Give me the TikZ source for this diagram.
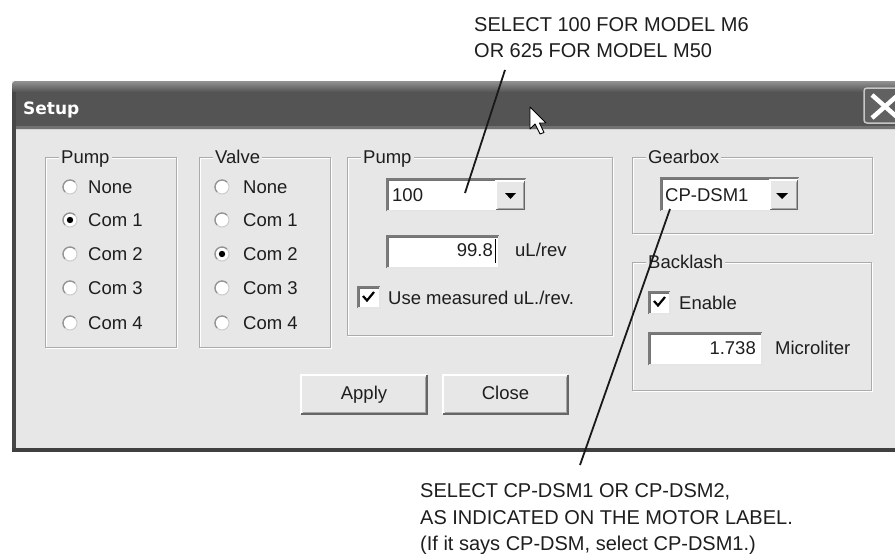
\documentclass[tikz,border=0pt]{standalone}
\usepackage{fontspec}
\setmainfont{Liberation Sans}
\newfontfamily\titlefont{DejaVu Sans}
\definecolor{dlgbg}{HTML}{E7E7E7}
\definecolor{grpline}{HTML}{ABABAB}
\definecolor{darkedge}{HTML}{7A7A7A}
\definecolor{ink}{HTML}{1E1E1E}
\definecolor{barcol}{HTML}{545454}
\newcommand{\sunkenbox}[4]{%
  \fill[white] (#1,#2) rectangle (#3,#4);
  \draw[darkedge, line width=1.2] (#1,#4) -- (#1,#2) -- (#3,#2);
  \draw[black!55, line width=0.8] (#1+1.5,#4-1.5) -- (#1+1.5,#2+1.5) -- (#3-1.5,#2+1.5);
  \draw[gray!20, line width=1.2] (#3,#2) -- (#3,#4) -- (#1,#4);}
\newcommand{\raisedbox}[4]{%
  \fill[dlgbg] (#1,#2) rectangle (#3,#4);
  \draw[white, line width=1.2] (#1,#4) -- (#1,#2) -- (#3,#2);
  \draw[black!60, line width=1.5] (#3,#2) -- (#3,#4) -- (#1,#4);
  \draw[gray!70, line width=1] (#3-1.5,#2+1.5) -- (#3-1.5,#4-1.5) -- (#1+1.5,#4-1.5);}
\newcommand{\groupframe}[4]{%
  \draw[white, line width=1] (#1+1,#2+1) rectangle (#3+1,#4+1);
  \draw[grpline, line width=1] (#1,#2) rectangle (#3,#4);}
\newcommand{\radiobtn}[3]{%
  \fill[white] (#1,#2) circle (7);
  \draw[gray!40, line width=1] (#1,#2) circle (7);
  \draw[gray!85, line width=1.3] ([shift={(135:7)}]#1,#2) arc (135:315:7);
  \ifnum#3=1 \fill[black] (#1,#2) circle (3.2);\fi}
\newcommand{\checkmk}[2]{%
  \draw[black, line width=2.2] (#1+5,#2+9) -- (#1+9,#2+13.5) -- (#1+16,#2+5);}
\tikzset{
  ui/.style={font=\fontsize{18.5}{21}\selectfont, text=ink, inner sep=0pt},
  grplabel/.style={ui, fill=dlgbg, inner xsep=2pt, inner ysep=1pt, anchor=base west},
  note/.style={font=\fontsize{20}{26}\selectfont, text=ink, inner sep=0pt, anchor=base west},
  leader/.style={line width=1.8, black!90},
}
\begin{document}
\begin{tikzpicture}[x=1pt,y=-1pt]
\useasboundingbox[fill=white] (0,0) rectangle (895,554);

% dialog body
\fill[dlgbg] (12,81) rectangle (895,451);
% title bar
\fill[barcol, rounded corners=4] (12,81) rectangle (905,129);
\shade[top color=gray!85, bottom color=barcol, rounded corners=4] (12,81) rectangle (905,92);
\fill[gray!70!barcol] (16,126) rectangle (895,129);
% borders
\fill[black!72] (12,92) rectangle (16,452);
\fill[black!75] (12,448) rectangle (895,452);

\node[anchor=base west, inner sep=0pt, text=white,
      font=\titlefont\bfseries\fontsize{17}{20}\selectfont] (title) at (23,114) {Setup};

% close button
\draw[gray!45, line width=1.5, fill=black!62, rounded corners=3] (864,88) rectangle (910,123);
\draw[white, line width=4.5] (872,95) -- (898,118) (898,95) -- (872,118);

% cursor
\draw[black, fill=white, line width=0.9, line join=round]
  (530,107) -- (530,129) -- (535,124) -- (540,134) -- (544,132.5) -- (539.5,123) -- (546,123) -- cycle;

% group frames
\groupframe{45}{157}{176}{347}
\groupframe{199}{157}{330}{347}
\groupframe{347}{157}{612}{335}
\groupframe{632}{157}{872}{233}
\groupframe{632}{262}{871}{390}

\node[grplabel] (gpump) at (59,163.5) {Pump};
\node[grplabel] (gvalve) at (213,163.5) {Valve};
\node[grplabel] (gpump2) at (361,163.5) {Pump};
\node[grplabel] (ggear) at (646,163.5) {Gearbox};
\node[grplabel] (gback) at (646,268.5) {Backlash};

% radio buttons
\foreach \yy/\t/\sa/\sb [count=\i] in {187/None/0/0, 220/Com 1/1/0, 254/Com 2/0/1, 288/Com 3/0/0, 323/Com 4/0/0}{
  \radiobtn{70}{\yy}{\sa}
  \radiobtn{222}{\yy}{\sb}
  \node[ui, anchor=base west] (pr\i) at (88,\yy+6.5) {\t};
  \node[ui, anchor=base west] (vr\i) at (243,\yy+6.5) {\t};
}

% middle pump group
\sunkenbox{387}{179}{526}{211}
\raisedbox{496}{181}{524.5}{209.5}
\fill[black] (505,193) -- (516,193) -- (510.5,199) -- cycle;
\node[ui, anchor=base west] (vol) at (392,201.5) {100};

\sunkenbox{387}{236}{499}{268}
\node[ui, anchor=base east] (meas) at (493,256.5) {99.8};
\draw[black, line width=1] (495.5,239) -- (495.5,263);
\node[ui, anchor=base west] (unit1) at (515,256.5) {uL/rev};

\sunkenbox{358}{287}{380}{308}
\checkmk{358}{287}
\node[ui, anchor=base west] (usem) at (388,304.5) {Use measured uL./rev.};

% gearbox
\sunkenbox{661}{178}{799}{211}
\raisedbox{770}{180}{797.5}{209.5}
\fill[black] (776,193) -- (788,193) -- (782,199) -- cycle;
\node[ui, anchor=base west] (gear) at (665,201.5) {CP-DSM1};

% backlash
\sunkenbox{649}{292}{670}{314}
\checkmk{649}{292}
\node[ui, anchor=base west] (enab) at (679,309.5) {Enable};
\sunkenbox{649}{333}{762}{365}
\node[ui, anchor=base east] (blval) at (756,354.5) {1.738};
\node[ui, anchor=base west] (unit2) at (775,354.5) {Microliter};

% buttons
\raisedbox{301}{375}{427}{414}
\raisedbox{443}{375}{568}{414}
\node[ui, anchor=base] (apply) at (364,399.5) {Apply};
\node[ui, anchor=base] (close) at (505.5,399.5) {Close};

% annotations
\node[note] (n1a) at (474,31) {SELECT 100 FOR MODEL M6};
\node[note] (n1b) at (474,57) {OR 625 FOR MODEL M50};
\node[note] (n2a) at (420,497) {SELECT CP-DSM1 OR CP-DSM2,};
\node[note] (n2b) at (420,524) {AS INDICATED ON THE MOTOR LABEL.};
\node[note] (n2c) at (420,550) {(If it says CP-DSM, select CP-DSM1.)};

\coordinate (l1top) at (505,70);
\coordinate (l1end) at (465,193);
\coordinate (l2top) at (670,209);
\coordinate (l2end) at (580,465);
\draw[leader] (l1top) -- (l1end);
\draw[leader] (l2top) -- (l2end);
\end{tikzpicture}
\end{document}
